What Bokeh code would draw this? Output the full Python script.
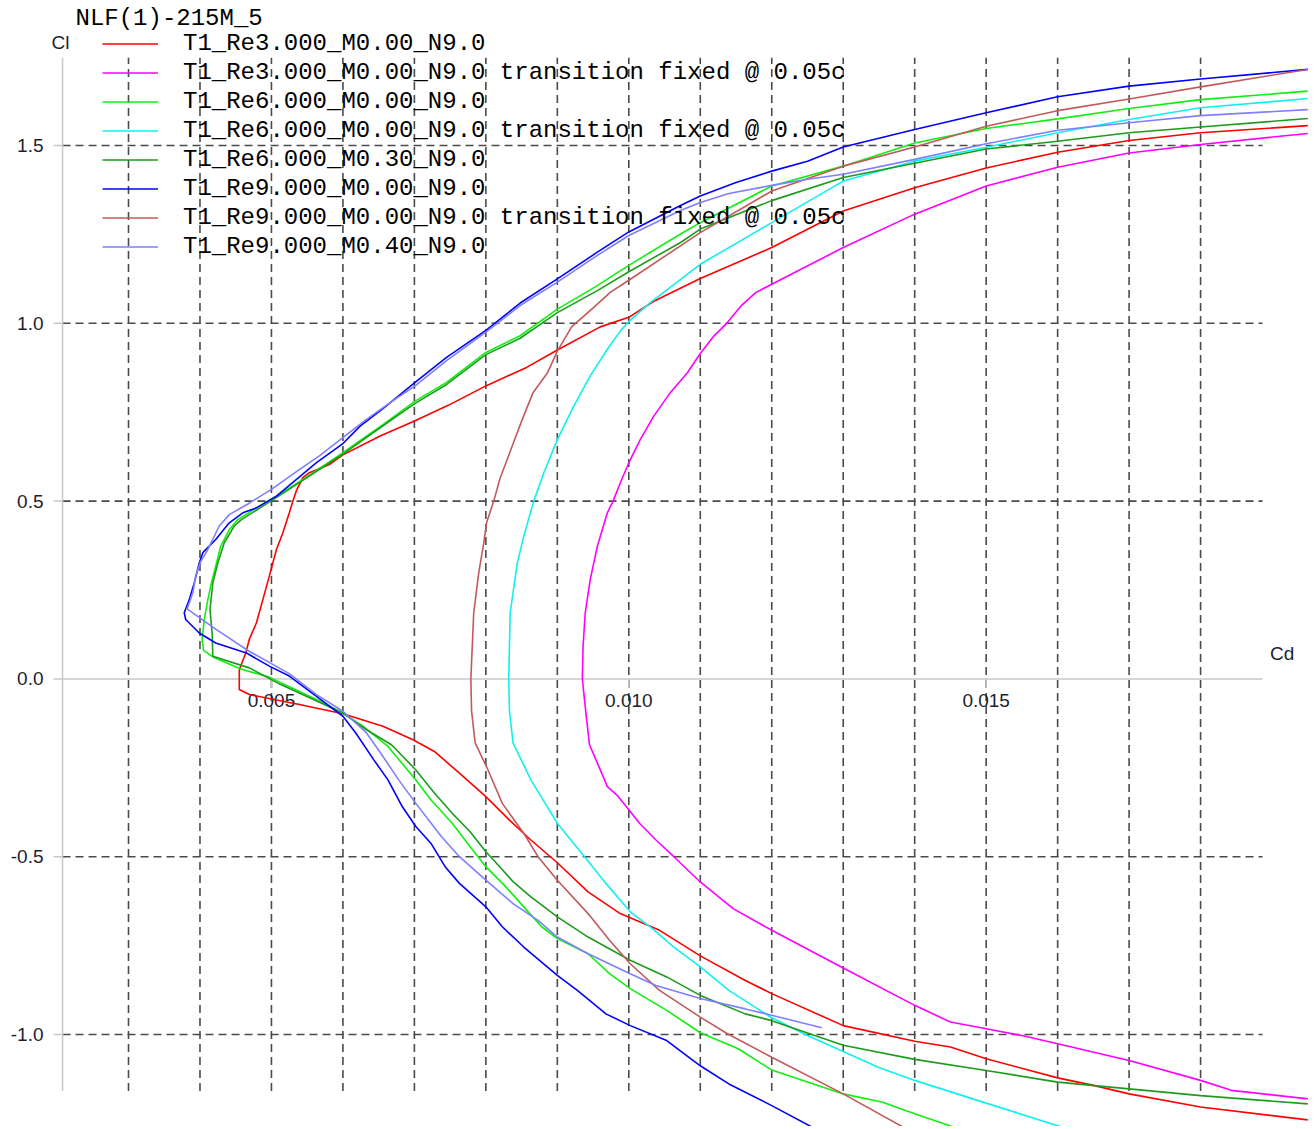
import math
from bokeh.plotting import figure
from bokeh.models import Range1d, Legend, LegendItem, Label
from bokeh.embed import file_html
from bokeh.resources import INLINE
from bokeh.core.properties import value

TITLE = "NLF(1)-215M_5"
series_names = [
    "T1_Re3.000_M0.00_N9.0",
    "T1_Re3.000_M0.00_N9.0 transition fixed @ 0.05c",
    "T1_Re6.000_M0.00_N9.0",
    "T1_Re6.000_M0.00_N9.0 transition fixed @ 0.05c",
    "T1_Re6.000_M0.30_N9.0",
    "T1_Re9.000_M0.00_N9.0",
    "T1_Re9.000_M0.00_N9.0 transition fixed @ 0.05c",
    "T1_Re9.000_M0.40_N9.0",
]
series_colors = ["#ff0000", "#ff00ff", "#10f010", "#10f0f0", "#1c9c1c", "#0000ff", "#c35a5a", "#7f7fff"]

# --- polar data (Cd, Cl) ---
red_cd = [0.01950, 0.01800, 0.01700, 0.01650, 0.01600, 0.01500, 0.01450, 0.01400, 0.01300, 0.01200, 0.01163, 0.01100, 0.01043, 0.00988, 0.00943, 0.00900, 0.00863, 0.00833, 0.00800, 0.00763, 0.00728, 0.00698, 0.00656, 0.00600, 0.00539, 0.00469, 0.00455, 0.00455, 0.00464, 0.00469, 0.00479, 0.00488, 0.00497, 0.00507, 0.00516, 0.00525, 0.00530, 0.00535, 0.00544, 0.00553, 0.00581, 0.00600, 0.00652, 0.00701, 0.00748, 0.00800, 0.00857, 0.00900, 0.00960, 0.01001, 0.01035, 0.01100, 0.01200, 0.01300, 0.01400, 0.01500, 0.01600, 0.01700, 0.01800, 0.01950]
red_cl = [-1.240, -1.204, -1.167, -1.143, -1.122, -1.068, -1.035, -1.019, -0.975, -0.885, -0.848, -0.779, -0.707, -0.660, -0.599, -0.517, -0.453, -0.397, -0.331, -0.265, -0.204, -0.171, -0.133, -0.098, -0.072, -0.044, -0.030, 0.026, 0.073, 0.111, 0.158, 0.223, 0.289, 0.364, 0.411, 0.467, 0.500, 0.530, 0.566, 0.580, 0.603, 0.630, 0.683, 0.726, 0.770, 0.824, 0.876, 0.925, 0.990, 1.018, 1.062, 1.126, 1.213, 1.316, 1.381, 1.437, 1.481, 1.514, 1.536, 1.556]

mag_cd = [0.01950, 0.01843, 0.01800, 0.01700, 0.01600, 0.01550, 0.01500, 0.01450, 0.01400, 0.01300, 0.01200, 0.01146, 0.01100, 0.01063, 0.01038, 0.01015, 0.01002, 0.00983, 0.00970, 0.00958, 0.00945, 0.00940, 0.00935, 0.00936, 0.00939, 0.00946, 0.00956, 0.00963, 0.00970, 0.00978, 0.00988, 0.01001, 0.01016, 0.01035, 0.01058, 0.01082, 0.01100, 0.01119, 0.01137, 0.01157, 0.01178, 0.01200, 0.01300, 0.01400, 0.01500, 0.01600, 0.01700, 0.01800, 0.01950]
mag_cl = [-1.181, -1.157, -1.129, -1.073, -1.026, -1.003, -0.984, -0.965, -0.918, -0.813, -0.707, -0.646, -0.571, -0.500, -0.453, -0.406, -0.373, -0.326, -0.303, -0.246, -0.185, -0.096, 0.000, 0.091, 0.185, 0.279, 0.373, 0.420, 0.467, 0.500, 0.551, 0.612, 0.673, 0.739, 0.805, 0.861, 0.915, 0.964, 1.000, 1.049, 1.087, 1.110, 1.213, 1.307, 1.386, 1.439, 1.479, 1.503, 1.534]

lg_cd = [0.01460, 0.01400, 0.01354, 0.01300, 0.01200, 0.01153, 0.01100, 0.01053, 0.01002, 0.00973, 0.00943, 0.00900, 0.00878, 0.00853, 0.00828, 0.00800, 0.00778, 0.00753, 0.00723, 0.00702, 0.00663, 0.00628, 0.00600, 0.00563, 0.00513, 0.00497, 0.00457, 0.00419, 0.00405, 0.00403, 0.00406, 0.00411, 0.00415, 0.00422, 0.00429, 0.00441, 0.00453, 0.00483, 0.00507, 0.00544, 0.00581, 0.00600, 0.00656, 0.00701, 0.00745, 0.00800, 0.00848, 0.00900, 0.00956, 0.01000, 0.01073, 0.01100, 0.01200, 0.01300, 0.01400, 0.01500, 0.01600, 0.01700, 0.01800, 0.01950]
lg_cl = [-1.264, -1.223, -1.190, -1.167, -1.100, -1.040, -0.995, -0.932, -0.871, -0.829, -0.773, -0.730, -0.697, -0.641, -0.585, -0.528, -0.472, -0.406, -0.340, -0.284, -0.190, -0.133, -0.096, -0.058, -0.011, 0.005, 0.028, 0.061, 0.080, 0.111, 0.167, 0.223, 0.261, 0.317, 0.373, 0.420, 0.448, 0.486, 0.514, 0.561, 0.610, 0.636, 0.715, 0.781, 0.834, 0.918, 0.965, 1.040, 1.106, 1.163, 1.252, 1.283, 1.386, 1.442, 1.507, 1.548, 1.575, 1.604, 1.629, 1.653]

cyan_cd = [0.01612, 0.01500, 0.01400, 0.01349, 0.01300, 0.01250, 0.01200, 0.01140, 0.01100, 0.01063, 0.01033, 0.01002, 0.00968, 0.00938, 0.00900, 0.00883, 0.00863, 0.00838, 0.00833, 0.00832, 0.00834, 0.00844, 0.00853, 0.00867, 0.00881, 0.00900, 0.00923, 0.00946, 0.00970, 0.00988, 0.01001, 0.01030, 0.01100, 0.01200, 0.01300, 0.01400, 0.01500, 0.01600, 0.01700, 0.01800, 0.01950]
cyan_cl = [-1.264, -1.193, -1.129, -1.092, -1.048, -1.003, -0.953, -0.876, -0.810, -0.754, -0.702, -0.655, -0.575, -0.500, -0.406, -0.350, -0.284, -0.180, -0.090, 0.000, 0.185, 0.326, 0.401, 0.500, 0.579, 0.673, 0.767, 0.852, 0.927, 0.978, 1.007, 1.058, 1.166, 1.283, 1.400, 1.456, 1.495, 1.536, 1.573, 1.606, 1.632]

dg_cd = [0.01950, 0.01800, 0.01700, 0.01600, 0.01500, 0.01400, 0.01300, 0.01200, 0.01163, 0.01100, 0.01053, 0.01002, 0.00943, 0.00900, 0.00863, 0.00838, 0.00813, 0.00800, 0.00778, 0.00753, 0.00728, 0.00702, 0.00668, 0.00633, 0.00600, 0.00513, 0.00469, 0.00418, 0.00417, 0.00414, 0.00418, 0.00425, 0.00434, 0.00448, 0.00458, 0.00488, 0.00510, 0.00546, 0.00583, 0.00600, 0.00656, 0.00701, 0.00745, 0.00800, 0.00848, 0.00900, 0.00956, 0.01000, 0.01073, 0.01100, 0.01200, 0.01300, 0.01400, 0.01500, 0.01600, 0.01700, 0.01800, 0.01950]
dg_cl = [-1.195, -1.172, -1.153, -1.134, -1.101, -1.070, -1.030, -0.961, -0.942, -0.890, -0.838, -0.791, -0.726, -0.669, -0.613, -0.570, -0.514, -0.486, -0.430, -0.378, -0.321, -0.256, -0.185, -0.143, -0.096, -0.016, 0.031, 0.064, 0.129, 0.195, 0.270, 0.326, 0.383, 0.430, 0.448, 0.486, 0.514, 0.561, 0.610, 0.632, 0.712, 0.775, 0.828, 0.912, 0.958, 1.030, 1.092, 1.145, 1.228, 1.265, 1.345, 1.410, 1.450, 1.490, 1.512, 1.536, 1.552, 1.576]

blue_cd = [0.01257, 0.01200, 0.01140, 0.01100, 0.01053, 0.01002, 0.00968, 0.00928, 0.00900, 0.00853, 0.00823, 0.00800, 0.00763, 0.00743, 0.00723, 0.00702, 0.00683, 0.00663, 0.00643, 0.00618, 0.00600, 0.00563, 0.00525, 0.00497, 0.00465, 0.00422, 0.00399, 0.00380, 0.00378, 0.00385, 0.00392, 0.00399, 0.00404, 0.00422, 0.00441, 0.00460, 0.00479, 0.00507, 0.00535, 0.00563, 0.00599, 0.00624, 0.00656, 0.00701, 0.00745, 0.00800, 0.00848, 0.00900, 0.00956, 0.01000, 0.01073, 0.01100, 0.01149, 0.01200, 0.01250, 0.01300, 0.01400, 0.01500, 0.01600, 0.01700, 0.01800, 0.01950]
blue_cl = [-1.261, -1.200, -1.139, -1.088, -1.017, -0.975, -0.942, -0.876, -0.834, -0.754, -0.697, -0.641, -0.575, -0.528, -0.462, -0.415, -0.359, -0.284, -0.227, -0.152, -0.105, -0.049, 0.008, 0.036, 0.073, 0.101, 0.129, 0.167, 0.186, 0.223, 0.270, 0.326, 0.355, 0.392, 0.439, 0.467, 0.481, 0.514, 0.561, 0.608, 0.660, 0.711, 0.760, 0.834, 0.904, 0.980, 1.057, 1.125, 1.200, 1.257, 1.332, 1.358, 1.395, 1.428, 1.456, 1.496, 1.545, 1.592, 1.637, 1.667, 1.687, 1.714]

brown_cd = [0.01387, 0.01300, 0.01200, 0.01138, 0.01100, 0.01043, 0.01002, 0.00973, 0.00943, 0.00900, 0.00873, 0.00853, 0.00823, 0.00803, 0.00785, 0.00780, 0.00779, 0.00783, 0.00790, 0.00797, 0.00801, 0.00811, 0.00820, 0.00836, 0.00850, 0.00866, 0.00886, 0.00900, 0.00920, 0.00951, 0.00974, 0.01000, 0.01100, 0.01200, 0.01300, 0.01400, 0.01500, 0.01600, 0.01700, 0.01800, 0.01950]
brown_cl = [-1.264, -1.167, -1.064, -0.998, -0.951, -0.876, -0.801, -0.735, -0.660, -0.566, -0.500, -0.434, -0.350, -0.256, -0.180, -0.090, 0.000, 0.185, 0.298, 0.382, 0.439, 0.500, 0.565, 0.650, 0.725, 0.805, 0.860, 0.922, 0.990, 1.045, 1.087, 1.121, 1.255, 1.372, 1.442, 1.496, 1.554, 1.598, 1.631, 1.665, 1.714]

lb_cd = [0.01270, 0.01200, 0.01163, 0.01100, 0.01038, 0.01002, 0.00943, 0.00900, 0.00873, 0.00838, 0.00800, 0.00763, 0.00738, 0.00702, 0.00678, 0.00653, 0.00633, 0.00600, 0.00563, 0.00525, 0.00467, 0.00422, 0.00382, 0.00390, 0.00394, 0.00401, 0.00410, 0.00427, 0.00441, 0.00467, 0.00500, 0.00535, 0.00567, 0.00599, 0.00631, 0.00668, 0.00701, 0.00745, 0.00800, 0.00848, 0.00900, 0.00956, 0.01000, 0.01073, 0.01100, 0.01140, 0.01200, 0.01250, 0.01300, 0.01400, 0.01500, 0.01600, 0.01700, 0.01800, 0.01950]
lb_cl = [-0.981, -0.946, -0.928, -0.899, -0.862, -0.829, -0.773, -0.726, -0.679, -0.632, -0.566, -0.500, -0.444, -0.350, -0.284, -0.209, -0.152, -0.091, -0.044, 0.015, 0.080, 0.140, 0.197, 0.242, 0.289, 0.330, 0.360, 0.430, 0.462, 0.492, 0.533, 0.583, 0.627, 0.677, 0.727, 0.780, 0.824, 0.895, 0.975, 1.050, 1.116, 1.191, 1.247, 1.318, 1.340, 1.365, 1.388, 1.405, 1.419, 1.461, 1.505, 1.543, 1.564, 1.584, 1.601]

series_cd = [red_cd, mag_cd, lg_cd, cyan_cd, dg_cd, blue_cd, brown_cd, lb_cd]
series_cl = [red_cl, mag_cl, lg_cl, cyan_cl, dg_cl, blue_cl, brown_cl, lb_cl]

# --- axes / grid ---
x_grid = [0.003, 0.004, 0.005, 0.006, 0.007, 0.008, 0.009, 0.010, 0.011, 0.012, 0.013, 0.014, 0.015, 0.016, 0.017, 0.018]
y_grid = [-1.0, -0.5, 0.5, 1.0, 1.5]
x_ticks = [0.005, 0.010, 0.015]
x_tick_labels = ["0.005", "0.010", "0.015"]
y_ticks = [-1.0, -0.5, 0.0, 0.5, 1.0, 1.5]
y_tick_labels = ["-1.0", "-0.5", "0.0", "0.5", "1.0", "1.5"]
cd_axis_start, cd_axis_end = 0.002077, 0.018867
cl_axis_start, cl_axis_end = -1.159, 1.747

AX_COLOR = "#c8c8c8"
GRID_COLOR = "#4a4a4a"
TXT_COLOR = "#1e1e2e"
SANS = "Liberation Sans"
MONO = "Liberation Mono"

p = figure(width=1312, height=1126,
           x_range=Range1d(0.001209, 0.019566), y_range=Range1d(-1.2587, 1.9078),
           output_backend="svg", toolbar_location=None,
           x_axis_location=None, y_axis_location=None,
           min_border_left=0, min_border_right=0, min_border_top=0, min_border_bottom=0)
p.grid.visible = False
p.outline_line_color = None
p.background_fill_color = "white"
p.border_fill_color = "white"

# dashed grid
p.segment(x0=x_grid, y0=[cl_axis_start] * len(x_grid), x1=x_grid, y1=[cl_axis_end] * len(x_grid),
          line_color=GRID_COLOR, line_width=1.6, line_dash="8 5")
p.segment(x0=[cd_axis_start] * len(y_grid), y0=y_grid, x1=[cd_axis_end] * len(y_grid), y1=y_grid,
          line_color=GRID_COLOR, line_width=1.6, line_dash="8 5")

# y axis (at left edge of the axis box)
p.segment(x0=[cd_axis_start], y0=[cl_axis_start], x1=[cd_axis_start], y1=[cl_axis_end],
          line_color=AX_COLOR, line_width=1.5)
p.ray(x=[cd_axis_start] * len(y_ticks), y=y_ticks, length=9, length_units="screen", angle=math.pi,
      line_color=AX_COLOR, line_width=1.5)
p.text(x=[cd_axis_start] * len(y_ticks), y=y_ticks, text=y_tick_labels, x_offset=-19,
       text_align="right", text_baseline="middle", text_font=value(SANS),
       text_font_size="19px", text_color=TXT_COLOR)

# x axis drawn through Cl = 0
p.segment(x0=[cd_axis_start], y0=[0.0], x1=[cd_axis_end], y1=[0.0], line_color=AX_COLOR, line_width=1.5)
p.ray(x=x_ticks, y=[0.0] * len(x_ticks), length=9, length_units="screen", angle=-math.pi / 2,
      line_color=AX_COLOR, line_width=1.5)
p.text(x=x_ticks, y=[0.0] * len(x_ticks), text=x_tick_labels, y_offset=22,
       text_align="center", text_baseline="middle", text_font=value(SANS),
       text_font_size="19px", text_color=TXT_COLOR)

items = []
for name, col, cd, cl in zip(series_names, series_colors, series_cd, series_cl):
    r = p.line(cd, cl, line_color=col, line_width=1.6)
    items.append(LegendItem(label=name, renderers=[r]))

legend = Legend(items=items, location=(102, 866), orientation="vertical",
                label_text_font=MONO, label_text_font_size="24px", label_text_color="black",
                glyph_width=56, glyph_height=27, label_height=27, label_standoff=25,
                spacing=2, padding=0, margin=0,
                background_fill_alpha=0, border_line_alpha=0)
p.add_layout(legend, "center")

p.add_layout(Label(x=0.002258, y=1.857, text=TITLE, text_font=MONO, text_font_size="24px",
                   text_color="black", text_align="left", text_baseline="middle"))
p.add_layout(Label(x=0.002049, y=1.7897, text="Cl", text_font=SANS, text_font_size="19px",
                   text_color=TXT_COLOR, text_align="center", text_baseline="middle"))
p.add_layout(Label(x=0.01914, y=0.0714, text="Cd", text_font=SANS, text_font_size="19px",
                   text_color=TXT_COLOR, text_align="center", text_baseline="middle"))

open("out.html", "w").write(file_html(p, INLINE))
